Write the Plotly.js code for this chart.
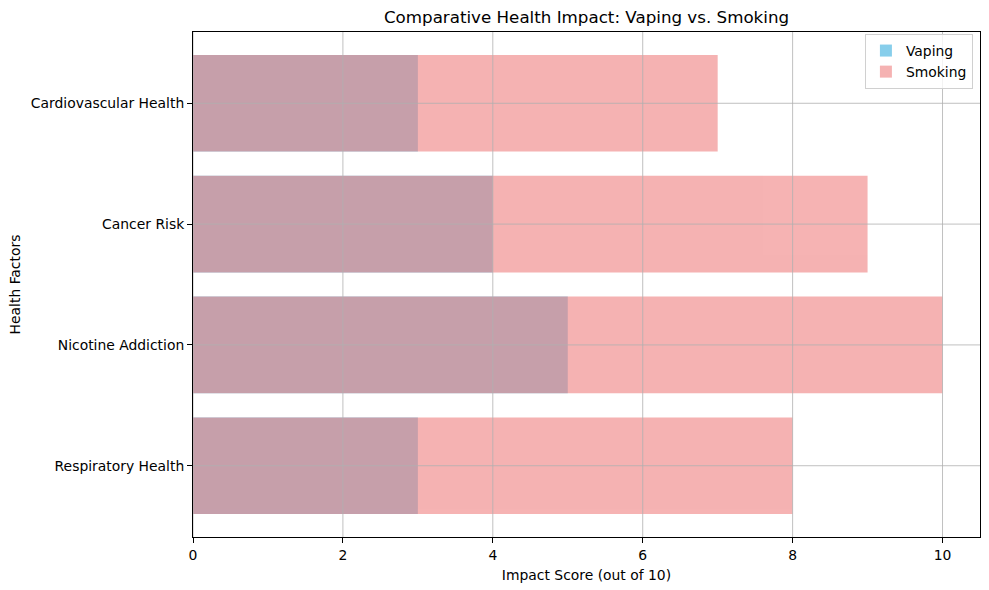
<!DOCTYPE html>
<html>
<head>
<meta charset="utf-8">
<script src="https://cdn.plot.ly/plotly-3.0.1.min.js"></script>
<style>html,body{margin:0;padding:0;background:#fff;}#chart{width:989px;height:590px;}</style>
</head>
<body>
<div id="chart"></div>
<script>
const categories = ["Respiratory Health", "Nicotine Addiction", "Cancer Risk", "Cardiovascular Health"];
const vapingScores = [3, 5, 4, 3];
const smokingScores = [8, 10, 9, 7];
const xTicks = [0, 2, 4, 6, 8, 10];

const font = "DejaVu Sans, sans-serif";

const traces = [
  {type: "bar", orientation: "h", name: "Vaping", y: categories, x: vapingScores,
   width: 0.8, marker: {color: "skyblue", line: {width: 0}}},
  {type: "bar", orientation: "h", name: "Smoking", y: categories, x: smokingScores,
   width: 0.8, opacity: 0.6, marker: {color: "lightcoral", line: {width: 0}}}
];

const shapes = [];
xTicks.forEach(v => shapes.push({type: "line", layer: "above", xref: "x", yref: "paper",
  x0: v, x1: v, y0: 0, y1: 1, line: {color: "#b0b0b0", width: 0.8}}));
categories.forEach(c => shapes.push({type: "line", layer: "above", xref: "paper", yref: "y",
  x0: 0, x1: 1, y0: c, y1: c, line: {color: "#b0b0b0", width: 0.8}}));

const layout = {
  width: 989, height: 590,
  margin: {l: 193, r: 9, t: 32, b: 53},
  paper_bgcolor: "#fff", plot_bgcolor: "#fff",
  font: {family: font, size: 13.9, color: "#000"},
  barmode: "overlay",
  title: {text: "Comparative Health Impact: Vaping vs. Smoking", font: {size: 16.7, color: "#000"},
    x: 0.5, xref: "paper", y: 1 - 17/590, yanchor: "middle"},
  xaxis: {range: [0, 10.5], tickvals: xTicks, ticktext: xTicks.map(String),
    showgrid: false, zeroline: false, showline: true, mirror: true, linecolor: "#000", linewidth: 1,
    ticks: "outside", ticklen: 5, tickcolor: "#000", tickwidth: 1,
    title: {text: "Impact Score (out of 10)", font: {size: 13.9}, standoff: 8}},
  yaxis: {type: "category", categoryorder: "array", categoryarray: categories,
    range: [-0.59, 3.59], showgrid: false, zeroline: false, showline: true, mirror: true,
    linecolor: "#000", linewidth: 1, ticks: "outside", ticklen: 5, tickcolor: "#000", tickwidth: 1,
    title: {text: "Health Factors", font: {size: 13.9}, standoff: 6}},
  legend: {x: 0.991, xanchor: "right", y: 0.996, yanchor: "top",
    bgcolor: "rgba(255,255,255,0.8)", bordercolor: "#d0d0d0", borderwidth: 1,
    font: {size: 13.9}, tracegroupgap: 0},
  shapes: shapes,
  showlegend: true
};

Plotly.newPlot("chart", traces, layout, {displayModeBar: false, staticPlot: true});
</script>
</body>
</html>
